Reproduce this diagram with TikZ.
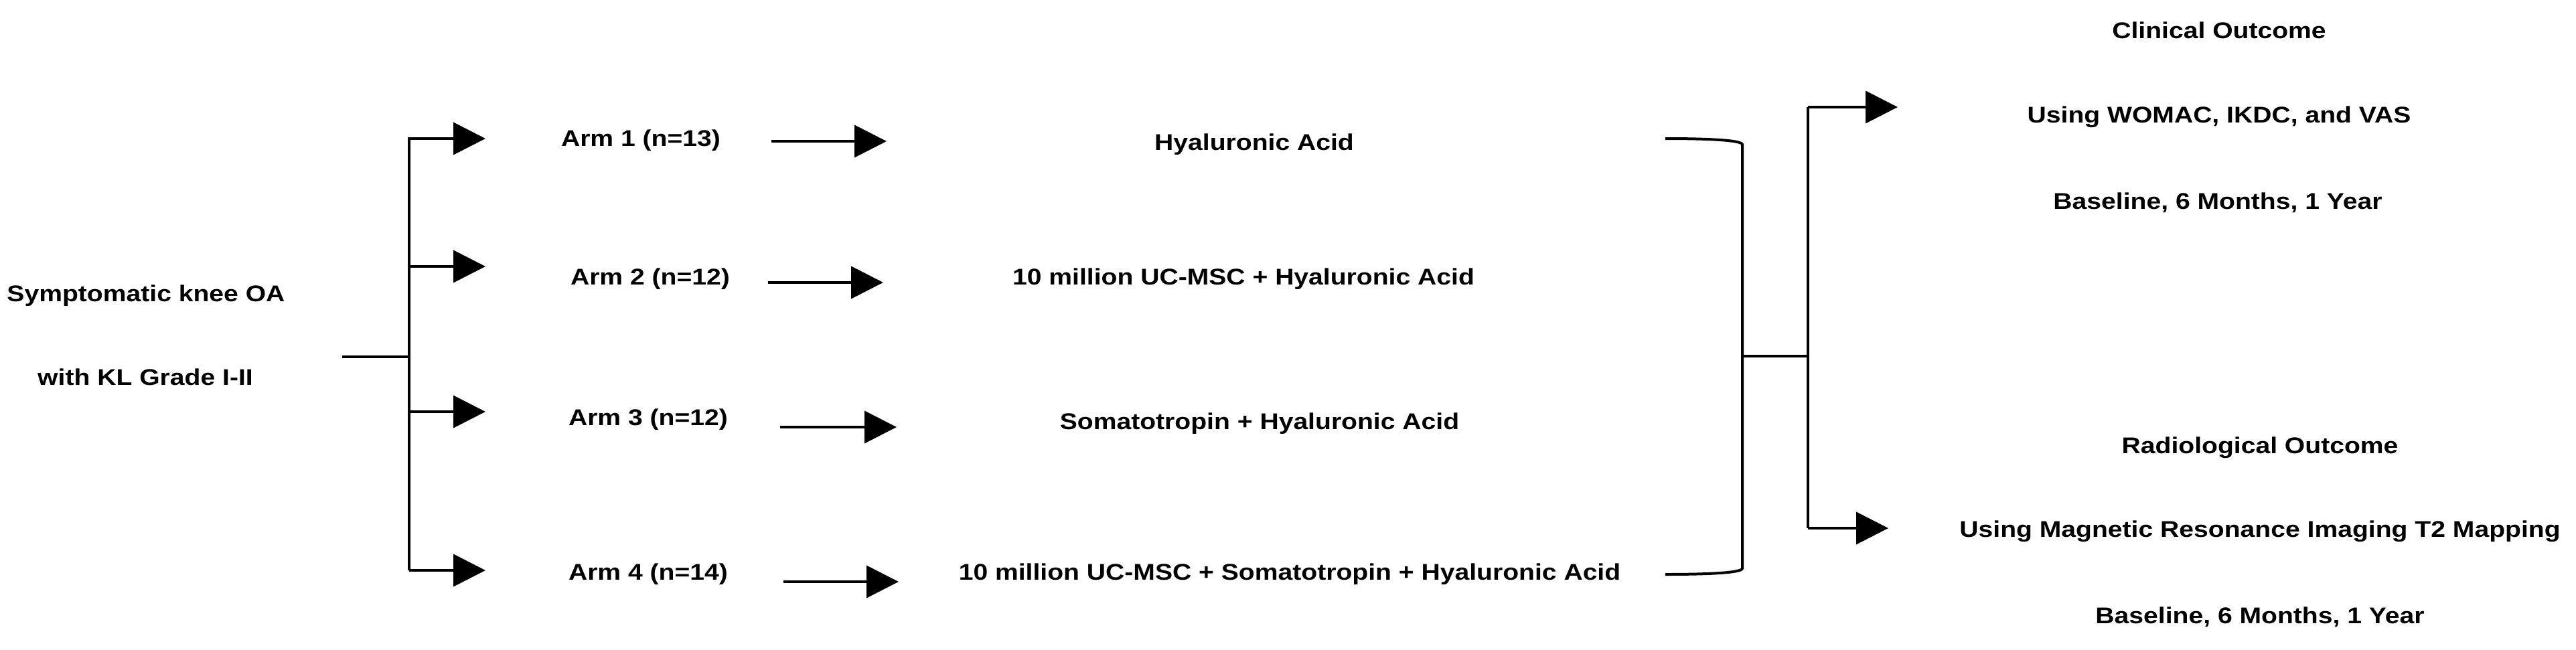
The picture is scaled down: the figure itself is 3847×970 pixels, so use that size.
\documentclass[tikz,border=0pt]{standalone}
\usepackage{fontspec}
\setmainfont{Liberation Sans}[FakeStretch=1.15]
\usetikzlibrary{arrows.meta}
\tikzset{
  lbl/.style={anchor=base,inner sep=0pt,font=\fontsize{17pt}{20pt}\selectfont\bfseries},
  link/.style={line width=2pt},
  arr/.style={line width=2pt,-{Triangle[length=24pt,width=24pt]}}
}
\begin{document}
\begin{tikzpicture}[x=0.5pt,y=-0.5pt]
\useasboundingbox (0,0) rectangle (3847,970);

% Population
\node[lbl] (pop1) at (218,450) {Symptomatic knee OA};
\node[lbl] (pop2) at (217,575) {with KL Grade I-II};

% Randomisation tree
\coordinate (stemL) at (511,533);
\coordinate (jL) at (611,533);
\draw[link] (stemL) -- (jL);
\draw[link] (611,205) -- (611,852);
\draw[arr] (611,207) -- (725,207);
\draw[arr] (611,398) -- (725,398);
\draw[arr] (611,615) -- (725,615);
\draw[arr] (611,852) -- (725,852);

% Arms
\node[lbl] (arm1) at (957,218) {Arm 1 (n=13)};
\node[lbl] (arm2) at (971,425) {Arm 2 (n=12)};
\node[lbl] (arm3) at (968,635) {Arm 3 (n=12)};
\node[lbl] (arm4) at (968,866) {Arm 4 (n=14)};

% Arm to treatment arrows
\draw[arr] (1152,211) -- (1324,211);
\draw[arr] (1147,422) -- (1319,422);
\draw[arr] (1165,638) -- (1339,638);
\draw[arr] (1170,869) -- (1342,869);

% Treatments
\node[lbl] (tx1) at (1873,224) {Hyaluronic Acid};
\node[lbl] (tx2) at (1857,425) {10 million UC-MSC + Hyaluronic Acid};
\node[lbl] (tx3) at (1881,641) {Somatotropin + Hyaluronic Acid};
\node[lbl] (tx4) at (1926,866) {10 million UC-MSC + Somatotropin + Hyaluronic Acid};

% Bracket joining the arms
\draw[link] (2487,207) .. controls (2560,207) and (2602,210) .. (2602,216)
  -- (2602,849) .. controls (2602,855) and (2560,858) .. (2487,858);
\coordinate (jR) at (2700,532);
\draw[link] (2602,532) -- (jR);
\draw[link] (2700,160) -- (2700,789);
\draw[arr] (2700,160) -- (2834,160);
\draw[arr] (2700,789) -- (2820,789);

% Outcomes
\node[lbl] (clin1) at (3314,57) {Clinical Outcome};
\node[lbl] (clin2) at (3314,183) {Using WOMAC, IKDC, and VAS};
\node[lbl] (clin3) at (3312,312) {Baseline, 6 Months, 1 Year};
\node[lbl] (rad1) at (3375,677) {Radiological Outcome};
\node[lbl] (rad2) at (3375,802) {Using Magnetic Resonance Imaging T2 Mapping};
\node[lbl] (rad3) at (3375,931) {Baseline, 6 Months, 1 Year};
\end{tikzpicture}
\end{document}
